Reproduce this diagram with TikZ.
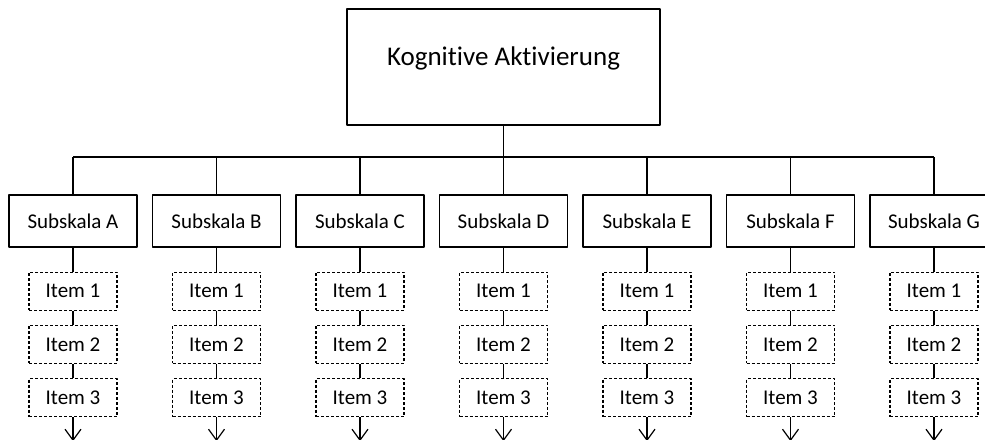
\documentclass[tikz,border=0pt]{standalone}
\usepackage{fontspec}
\setmainfont{Carlito}[Ligatures=NoCommon]
\usetikzlibrary{positioning,arrows.meta}
\begin{document}
\begin{tikzpicture}[x=1pt, y=-1pt, line width=1.2pt, line join=round, >={Straight Barb[length=11pt,width=16pt]},
	node distance=14pt,
	haupt/.style={draw, minimum width=313pt, minimum height=116pt, inner sep=0pt, text height=20pt, text depth=24pt, font=\fontsize{27}{32}\selectfont},
	skala/.style={draw, minimum width=128pt, minimum height=52pt, inner sep=0pt, font=\fontsize{21}{25}\selectfont},
	item/.style={draw, dash pattern=on 3pt off 2pt, minimum width=88pt, minimum height=38pt, inner sep=0pt, font=\fontsize{21}{25}\selectfont}]
			\useasboundingbox (0,0) rectangle (985,439);
			\node[haupt] (kog) at (503.5,67) {Kognitive Aktivierung};
			\coordinate (bus) at (0,157);
%			Subskalen mit je drei Items
			\foreach \n [count=\i from 0] in {A,...,G}
			{
				\node[skala] (s\n) at (73+143.5*\i,221) {Subskala \n};
				\node[item, below=24pt of s\n] (s\n1) {Item 1};
				\node[item, below=of s\n1] (s\n2) {Item 2};
				\node[item, below=of s\n2] (s\n3) {Item 3};
				\coordinate[below=24pt of s\n3] (e\n);
				\draw (s\n.north |- bus) -- (s\n.north);
				\draw (s\n) -- (s\n1) (s\n1) -- (s\n2) (s\n2) -- (s\n3);
				\draw[->] (s\n3) -- (e\n);
			}
			\draw (kog.south) -- (kog.south |- bus);
			\draw (sA.north |- bus) -- (sG.north |- bus);
		\end{tikzpicture}
\end{document}
